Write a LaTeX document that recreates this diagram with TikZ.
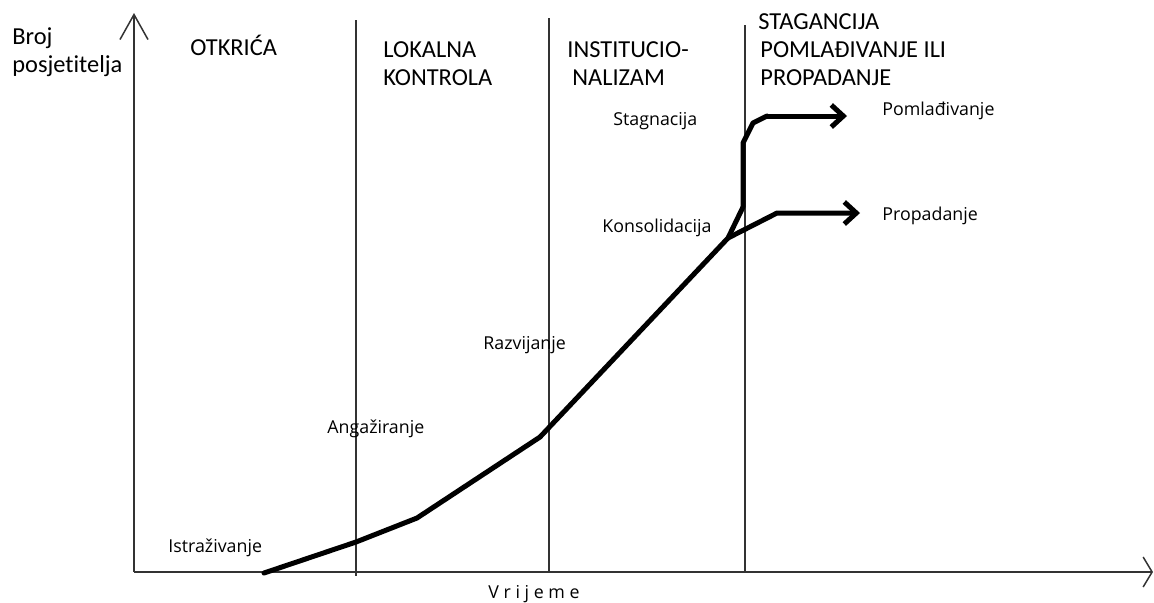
\documentclass[tikz,border=0pt]{standalone}
\usepackage{fontspec}
\setmainfont{Carlito}[Ligatures=NoCommon]
\newfontfamily\stagefont{Open Sans}
\usetikzlibrary{arrows.meta,positioning}
\tikzset{>=Straight Barb}
\colorlet{penColor}{black}
\colorlet{lineColor}{black!80}

\begin{document}
\begin{tikzpicture}[x=0.5pt,y=-0.5pt,
    phase/.style={anchor=base west,align=left,inner sep=0pt,font=\fontsize{12.2}{14}\selectfont},
    stage/.style={anchor=base west,inner sep=0pt,font=\stagefont\fontsize{8.9}{10}\selectfont},
    divider/.style={lineColor,line width=1pt},
    curve/.style={penColor,line width=2.5pt,line join=round,line cap=round}]
  \useasboundingbox (0,0) rectangle (1154,602);
  % axes
  \coordinate (o) at (134,572);
  \coordinate (ytip) at (134,13);
  \coordinate (xtip) at (1153,572);
  \draw [lineColor,line width=.75pt,-{Straight Barb[length=12.5pt,width=14pt]}] (o) -- (ytip);
  \draw [lineColor,line width=.75pt,-{Straight Barb[length=4.5pt,width=15pt]}] (o) -- (xtip);
  % phases (base = last line)
  \draw [divider] (356,20) -- (356,576);
  \draw [divider] (549,18) -- (549,572);
  \draw [divider] (745,25) -- (745,572);
  \node [phase] (ylabel) at (12,72) {Broj\\posjetitelja};
  \node [phase] (otkrica) at (190,55) {OTKRIĆA};
  \node [phase] (lokalna) at (383,85) {LOKALNA\\KONTROLA};
  \node [phase] (instit) at (567,85) {INSTITUCIO-\\\hspace{2.5pt}NALIZAM};
  \node [phase] (stag) at (758,85) {STAGANCIJA\\\hspace{1pt}POMLAĐIVANJE ILI\\\hspace{1pt}PROPADANJE};
  \node [stage] (vrijeme) at (488,598) {V r i j e m e};
  % stages
  \node [stage] (istr) at (168,552) {Istraživanje};
  \node [stage] (anga) at (327,433) {Angažiranje};
  \node [stage] (razv) at (483,349) {Razvijanje};
  \node [stage] (kons) at (602,232) {Konsolidacija};
  \node [stage] (stagn) at (613,125) {Stagnacija};
  \node [stage] (poml) at (882,115) {Pomlađivanje};
  \node [stage] (prop) at (882,220) {Propadanje};
  % tourist area life cycle
  \coordinate (c1) at (264,573);
  \coordinate (c2) at (356,542);
  \coordinate (c3) at (417,518);
  \coordinate (c4) at (540,437);
  \coordinate (c5) at (728,238);
  \coordinate (c6) at (743,207);
  \coordinate (c7) at (743,143);
  \coordinate (c8) at (753,123);
  \coordinate (c9) at (767,116);
  \coordinate (pomlEnd) at (847,116);
  \coordinate (d1) at (777,213);
  \coordinate (propEnd) at (860,213);
  \draw [curve] (c1) -- (c2) -- (c3) -- (c4) -- (c5) -- (c6) -- (c7) -- (c8) -- (c9);
  \draw [curve,->,>={Straight Barb[length=6pt,width=11pt]}] (c9) -- (pomlEnd);
  \draw [curve,->,>={Straight Barb[length=6pt,width=11pt]}] (c5) -- (d1) -- (propEnd);
\end{tikzpicture}
\end{document}
